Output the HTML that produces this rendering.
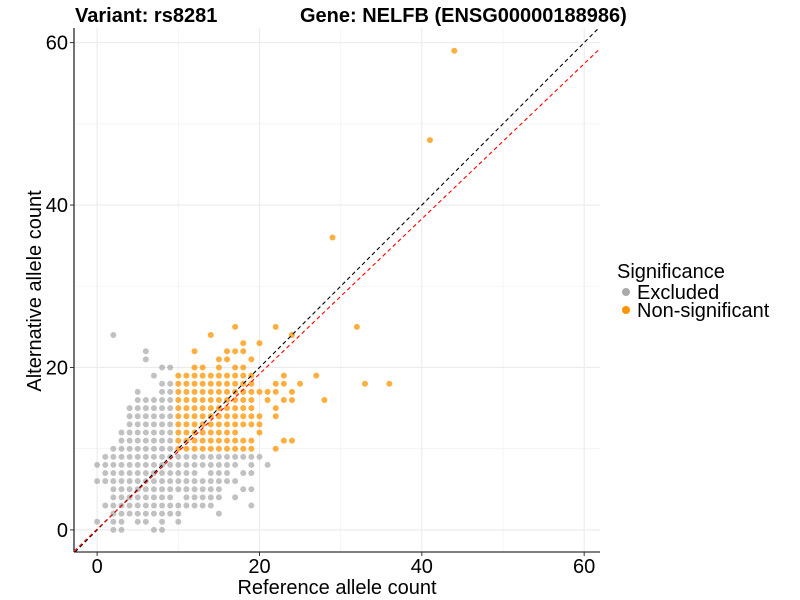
<!DOCTYPE html>
<html><head><meta charset="utf-8"><style>
body{margin:0;background:#fff;}
svg{display:block;font-family:"Liberation Sans",Arial,sans-serif;}
</style></head><body>
<svg id="chart" width="800" height="600" viewBox="0 0 800 600">
<text x="75" y="22" font-size="20" font-weight="bold">Variant: rs8281</text>
<text x="300" y="22" font-size="20" font-weight="bold">Gene: NELFB (ENSG00000188986)</text>
<g id="grid"></g>
<g id="lines"></g>
<g id="pts"></g>
<g id="axes"></g>
<text x="337" y="594" font-size="20" text-anchor="middle">Reference allele count</text>
<text transform="translate(41,291) rotate(-90)" font-size="20" text-anchor="middle">Alternative allele count</text>
<g>
<text x="617" y="278" font-size="20">Significance</text>
<circle cx="626" cy="292" r="4" fill="#aaaaaa"/>
<text x="637" y="299" font-size="20">Excluded</text>
<circle cx="626" cy="310" r="4" fill="#ff9400"/>
<text x="637" y="317" font-size="20">Non-significant</text>
</g>
</svg>
<script>
// Excluded (gray) points: alt value -> list of ref values
const grayAlt = [24,22,21,20,19,18,17,16,15,14,13,12,11,10,9,8,7,6,5,4,3,2,1,0];
const grayRefs = [
 [2],[6],[6],[8,9],[7],[8,9],[5,8,9],[5,6,7,8,9],[4,5,6,7,8,9],[4,5,6,7,8,9],[4,5,6,7,8,9],
 [3,4,5,6,7,8,9],[3,4,5,6,7,8,9],[2,3,4,5,6,7,8,9],
 [1,2,3,4,5,6,7,8,9,10,11,12,13,14,15,16,17,18,19,20],
 [0,1,2,3,4,5,6,7,8,9,10,11,12,13,14,15,16,17,19,21],
 [1,2,3,4,5,6,7,8,9,10,11,12,14,15,16,18,19],
 [0,1,2,3,4,5,6,7,8,9,10,11,12,13,14,15,16,17],
 [2,3,4,5,6,7,8,9,10,11,12,13,14,15,18,19],
 [2,3,4,5,6,7,8,9,11,12,13,14,15,17],
 [1,2,3,4,5,6,7,8,9,10,11,12,13,14,19],
 [2,3,4,5,6,7,8,9,10,15],
 [0,2,3,5,6,8,10],
 [2,3,7,8]
];
// Non-significant (orange) points
const orangeAlt = [59,48,36,25,24,23,22,21,20,19,18,17,16,15,14,13,12,11,10];
const orangeRefs = [
 [44],[41],[29],[17,22,32],[14,24],[18,20],[12,16,17,18],[15,16,19],[12,13,15,17,18],
 [10,11,12,13,14,15,16,17,18,19,23,27],
 [10,11,12,13,14,15,16,17,18,19,22,23,25,33,36],
 [10,11,12,13,14,15,16,17,18,19,20,21,22,24],
 [10,11,12,13,14,15,16,17,18,19,21,23,24,28],
 [10,11,12,13,14,15,16,17,18,19,22],
 [10,11,12,13,14,15,16,17,18,19,20,22],
 [10,11,12,13,14,15,16,17,18,19,20],
 [10,11,12,13,14,15,16,17,20],
 [10,11,12,13,14,15,16,17,18,19,23,24],
 [10,11,12,13,14,15,16,17,18,19,22]
];
const xTicks = [0,20,40,60];
const yTicks = [0,20,40,60];
const minorTicks = [10,30,50];
const fitSlope = 0.955;
const fitIntercept = 0.1;

const X0=-2.85, X1=61.95, Y0=-2.72, Y1=61.8;
const L=74, R=600, T=28, B=552;
function sx(v){return L+(v-X0)/(X1-X0)*(R-L);}
function sy(v){return B-(v-Y0)/(Y1-Y0)*(B-T);}
const NS="http://www.w3.org/2000/svg";
function mk(tag,attrs,parent){const e=document.createElementNS(NS,tag);for(const k in attrs)e.setAttribute(k,attrs[k]);parent.appendChild(e);return e;}
const grid=document.getElementById('grid');
minorTicks.forEach(v=>{
 const a=mk('line',{x1:sx(v),x2:sx(v),y1:T,y2:B,stroke:'#f2f2f2','stroke-width':0.8},grid);
 
 
 const b=mk('line',{x1:L,x2:R,y1:sy(v),y2:sy(v),stroke:'#f2f2f2','stroke-width':0.8},grid);
 
 
});
xTicks.forEach(v=>{
 const a=mk('line',{x1:sx(v),x2:sx(v),y1:T,y2:B,stroke:'#ebebeb','stroke-width':1.1},grid);
 
 
});
yTicks.forEach(v=>{
 const b=mk('line',{x1:L,x2:R,y1:sy(v),y2:sy(v),stroke:'#ebebeb','stroke-width':1.1},grid);
 
 
});
const pts=document.getElementById('pts');
grayAlt.forEach((a,i)=>grayRefs[i].forEach(r=>{
 const c=mk('circle',{cx:sx(r),cy:sy(a),r:3,fill:'#a6a6a6','fill-opacity':0.7},pts);
 
 
}));
orangeAlt.forEach((a,i)=>orangeRefs[i].forEach(r=>{
 const c=mk('circle',{cx:sx(r),cy:sy(a),r:3,fill:'#ff9400','fill-opacity':0.75},pts);
 
 
}));
const lines=document.getElementById('lines');
let xa=Math.max(X0,Y0), xb=Math.min(X1,Y1);
const idl=mk('line',{x1:sx(xa),y1:sy(xa),x2:sx(xb),y2:sy(xb),stroke:'#000','stroke-width':1.1,'stroke-dasharray':'4,3'},lines);


let fa=(Y0-fitIntercept)/fitSlope; if(fa<X0) fa=X0;
const fl=mk('line',{x1:sx(fa),y1:sy(fitSlope*fa+fitIntercept),x2:sx(X1),y2:sy(fitSlope*X1+fitIntercept),stroke:'#ff0000','stroke-width':1.1,'stroke-dasharray':'4,3'},lines);


pts.parentNode.appendChild(lines);
const axes=document.getElementById('axes');
const ya=mk('line',{x1:L,x2:L,y1:T,y2:B,stroke:'#000','stroke-width':1.1},axes);


const xl=mk('line',{x1:L,x2:R,y1:B,y2:B,stroke:'#000','stroke-width':1.1},axes);


xTicks.forEach(v=>{
 const t=mk('line',{x1:sx(v),x2:sx(v),y1:B,y2:B+4,stroke:'#333'},axes);
 
 
 const l=mk('text',{x:sx(v),y:B+21,'font-size':20,'text-anchor':'middle',fill:'#000'},axes);
 l.textContent=v;
 
 
});
yTicks.forEach(v=>{
 const t=mk('line',{x1:L-4,x2:L,y1:sy(v),y2:sy(v),stroke:'#333'},axes);
 
 
 const l=mk('text',{x:L-6,y:sy(v)+7,'font-size':20,'text-anchor':'end',fill:'#000'},axes);
 l.textContent=v;
 
 
});
</script>
</body></html>
